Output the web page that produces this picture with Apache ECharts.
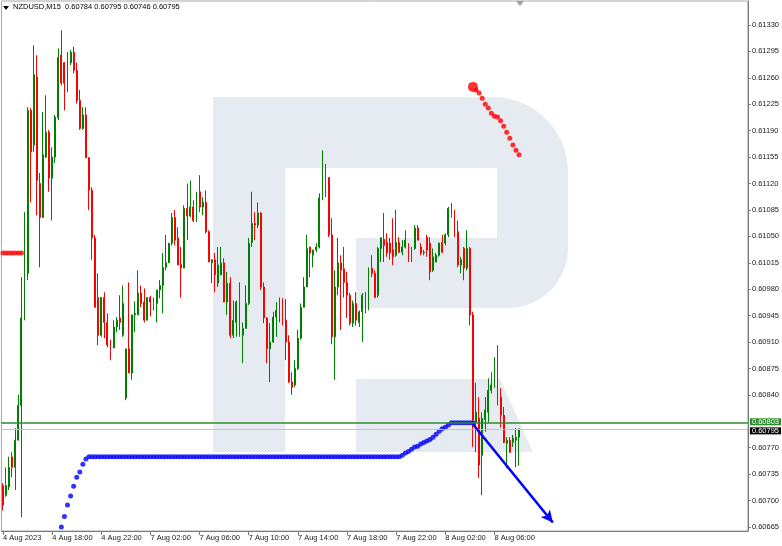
<!DOCTYPE html>
<html><head><meta charset="utf-8">
<script src="https://cdn.jsdelivr.net/npm/echarts@6/dist/echarts.min.js"></script>
<style>html,body{margin:0;padding:0;background:#fff}#c{width:782px;height:546px}</style>
</head><body><div id="c"></div>
<script>
const symbolName = 'NZDUSD,M15';
const xTickLabels = ['4 Aug 2023','4 Aug 18:00','4 Aug 22:00','7 Aug 02:00','7 Aug 06:00','7 Aug 10:00','7 Aug 14:00','7 Aug 18:00','7 Aug 22:00','8 Aug 02:00','8 Aug 06:00'];
const barsPerTick = 16;
const slotCount = 243;
const yTickValues = [0.61330,0.61295,0.61260,0.61225,0.61190,0.61155,0.61120,0.61085,0.61050,0.61015,0.60980,0.60945,0.60910,0.60875,0.60840,0.60770,0.60735,0.60700,0.60665];
const yMin = 0.606597, yMax = 0.613618;

const opens = [
0.60720,0.60707,0.60718,0.60758,0.60744,0.60780,0.60826,0.60939,0.61001,0.61217,
0.61171,0.61261,0.61120,0.61075,0.61155,0.61188,0.61127,0.61155,0.61207,0.61290,
0.61280,0.61250,0.61280,0.61294,0.61270,0.61230,0.61193,0.61211,0.61154,0.61111,
0.61048,0.60969,0.60919,0.60969,0.60936,0.60906,0.60902,0.60930,0.60942,0.60919,
0.60836,0.60901,0.60869,0.60946,0.60946,0.60975,0.60963,0.60939,0.60969,0.60964,
0.60961,0.60979,0.60985,0.61009,0.61015,0.61041,0.61075,0.61048,0.61013,0.61008,
0.61087,0.61077,0.61089,0.61071,0.61109,0.61089,0.61095,0.61056,0.61015,0.61019,
0.60988,0.60999,0.61015,0.60963,0.60988,0.60919,0.60936,0.60965,0.60919,0.60928,
0.60961,0.61042,0.61067,0.61065,0.61081,0.60983,0.60942,0.60901,0.60910,0.60943,
0.60952,0.60952,0.60939,0.60910,0.60857,0.60853,0.60875,0.60915,0.60956,0.60983,
0.61036,0.61025,0.61032,0.61036,0.61101,0.61144,0.61128,0.61052,0.60917,0.60983,
0.61015,0.61007,0.60989,0.60972,0.60935,0.60961,0.60936,0.60950,0.60972,0.60955,
0.61008,0.61001,0.60972,0.61034,0.61046,0.61042,0.61041,0.61032,0.61025,0.61042,
0.61029,0.61036,0.61036,0.61019,0.61034,0.61061,0.61036,0.61028,0.61049,0.61041,
0.61005,0.61016,0.61025,0.61042,0.61041,0.61052,0.61089,0.61081,0.61056,0.61012,
0.61034,0.61008,0.61034,0.60946,0.60804,0.60809,0.60760,0.60807,0.60817,0.60846,
0.60850,0.60889,0.60837,0.60813,0.60776,0.60780,0.60777,0.60780,0.60784];
const closes = [
0.60694,0.60720,0.60744,0.60744,0.60780,0.60826,0.60942,0.61001,0.61217,0.61162,
0.61264,0.61124,0.61075,0.61158,0.61188,0.61127,0.61155,0.61208,0.61287,0.61253,
0.61253,0.61277,0.61294,0.61270,0.61230,0.61193,0.61211,0.61154,0.61111,0.61048,
0.60956,0.60919,0.60969,0.60936,0.60906,0.60899,0.60930,0.60939,0.60936,0.60961,
0.60901,0.60869,0.60946,0.60948,0.60975,0.60961,0.60939,0.60969,0.60963,0.60961,
0.60979,0.60985,0.61009,0.61015,0.61041,0.61075,0.61045,0.61012,0.61008,0.61087,
0.61077,0.61089,0.61071,0.61109,0.61089,0.61095,0.61056,0.61016,0.61019,0.60999,
0.61012,0.61015,0.60963,0.60988,0.60919,0.60939,0.60963,0.60919,0.60928,0.60961,
0.61041,0.61067,0.61065,0.61081,0.60983,0.60942,0.60901,0.60910,0.60943,0.60952,
0.60951,0.60939,0.60910,0.60857,0.60850,0.60875,0.60915,0.60956,0.60983,0.61034,
0.61028,0.61032,0.61036,0.61101,0.61142,0.61128,0.61052,0.60917,0.60983,0.61015,
0.61005,0.60989,0.60972,0.60935,0.60961,0.60939,0.60950,0.60972,0.60950,0.61008,
0.61001,0.60969,0.61034,0.61048,0.61038,0.61028,0.61028,0.61023,0.61042,0.61029,
0.61036,0.61045,0.61019,0.61034,0.61061,0.61045,0.61028,0.61029,0.61032,0.61003,
0.61023,0.61025,0.61041,0.61029,0.61052,0.61087,0.61078,0.61056,0.61012,0.61019,
0.61008,0.61034,0.60946,0.60807,0.60817,0.60747,0.60809,0.60820,0.60846,0.60853,
0.60889,0.60836,0.60813,0.60777,0.60780,0.60764,0.60783,0.60784,0.60795];
const lows = [
0.60687,0.60705,0.60714,0.60731,0.60714,0.60780,0.60678,0.60939,0.60992,0.61095,
0.61162,0.61078,0.61009,0.61075,0.61154,0.61109,0.61071,0.61147,0.61204,0.61250,
0.61217,0.61241,0.61277,0.61266,0.61226,0.61191,0.61191,0.61154,0.61085,0.61019,
0.60956,0.60906,0.60917,0.60915,0.60903,0.60886,0.60902,0.60923,0.60926,0.60917,
0.60833,0.60869,0.60860,0.60923,0.60946,0.60956,0.60936,0.60939,0.60944,0.60952,
0.60936,0.60968,0.60948,0.61005,0.61015,0.61038,0.61038,0.61012,0.60969,0.61008,
0.61045,0.61075,0.61069,0.61069,0.61082,0.61078,0.61054,0.61016,0.60988,0.60976,
0.60983,0.60999,0.60963,0.60946,0.60915,0.60915,0.60917,0.60917,0.60882,0.60928,
0.60959,0.61036,0.61045,0.61061,0.60979,0.60935,0.60882,0.60857,0.60909,0.60917,
0.60936,0.60932,0.60886,0.60856,0.60840,0.60850,0.60873,0.60913,0.60956,0.60983,
0.60996,0.61009,0.61029,0.61034,0.61098,0.61102,0.61049,0.60907,0.60860,0.60972,
0.60926,0.60969,0.60942,0.60932,0.60930,0.60932,0.60930,0.60910,0.60948,0.60952,
0.60996,0.60969,0.60969,0.61016,0.61016,0.61023,0.61019,0.61012,0.61023,0.61028,
0.61025,0.61034,0.61016,0.61016,0.61032,0.61045,0.61025,0.61025,0.61023,0.60992,
0.61003,0.61016,0.61023,0.61028,0.61038,0.61049,0.61075,0.61049,0.61009,0.61001,
0.60992,0.61005,0.60932,0.60771,0.60764,0.60730,0.60707,0.60791,0.60803,0.60842,
0.60849,0.60826,0.60797,0.60776,0.60743,0.60763,0.60771,0.60744,0.60746];
const highs = [
0.60723,0.60744,0.60758,0.60764,0.60796,0.60840,0.60996,0.61082,0.61221,0.61220,
0.61303,0.61290,0.61134,0.61215,0.61237,0.61191,0.61168,0.61211,0.61299,0.61323,
0.61281,0.61294,0.61297,0.61301,0.61280,0.61244,0.61221,0.61221,0.61155,0.61115,
0.61052,0.61001,0.60969,0.60976,0.60948,0.60913,0.60939,0.60943,0.60972,0.60985,
0.60901,0.60989,0.60946,0.60964,0.61005,0.60985,0.60981,0.60969,0.60971,0.60969,
0.60979,0.60992,0.61028,0.61052,0.61041,0.61081,0.61085,0.61062,0.61036,0.61091,
0.61120,0.61124,0.61098,0.61109,0.61131,0.61102,0.61111,0.61058,0.61019,0.61028,
0.61036,0.61036,0.61021,0.61003,0.60996,0.60965,0.60965,0.60989,0.60936,0.60985,
0.61048,0.61109,0.61082,0.61095,0.61082,0.60989,0.60943,0.60935,0.60950,0.60963,
0.60969,0.60968,0.60967,0.60919,0.60870,0.60886,0.60926,0.60961,0.60996,0.61052,
0.61036,0.61032,0.61041,0.61107,0.61164,0.61146,0.61128,0.61074,0.61005,0.61048,
0.61025,0.61036,0.61003,0.60975,0.60965,0.60976,0.60952,0.60975,0.60976,0.61009,
0.61025,0.61005,0.61036,0.61049,0.61081,0.61054,0.61048,0.61074,0.61085,0.61049,
0.61045,0.61058,0.61041,0.61036,0.61065,0.61065,0.61041,0.61032,0.61052,0.61049,
0.61034,0.61028,0.61042,0.61052,0.61054,0.61089,0.61094,0.61085,0.61071,0.61023,
0.61036,0.61058,0.61036,0.60950,0.60856,0.60837,0.60817,0.60837,0.60862,0.60870,
0.60890,0.60906,0.60849,0.60824,0.60784,0.60784,0.60787,0.60796,0.60795];

// indicator dots (blue, below price), start bar index and values
const blueDotStart = 19;
const blueDotValues = [
0.60665,0.60679,0.60694,0.60706,0.60719,0.60731,0.60738,0.60748,0.60755,0.60758,
0.60758,0.60758,0.60758,0.60758,0.60758,0.60758,0.60758,0.60758,0.60758,0.60758,
0.60758,0.60758,0.60758,0.60758,0.60758,0.60758,0.60758,0.60758,0.60758,0.60758,
0.60758,0.60758,0.60758,0.60758,0.60758,0.60758,0.60758,0.60758,0.60758,0.60758,
0.60758,0.60758,0.60758,0.60758,0.60758,0.60758,0.60758,0.60758,0.60758,0.60758,
0.60758,0.60758,0.60758,0.60758,0.60758,0.60758,0.60758,0.60758,0.60758,0.60758,
0.60758,0.60758,0.60758,0.60758,0.60758,0.60758,0.60758,0.60758,0.60758,0.60758,
0.60758,0.60758,0.60758,0.60758,0.60758,0.60758,0.60758,0.60758,0.60758,0.60758,
0.60758,0.60758,0.60758,0.60758,0.60758,0.60758,0.60758,0.60758,0.60758,0.60758,
0.60758,0.60758,0.60758,0.60758,0.60758,0.60758,0.60758,0.60758,0.60758,0.60758,
0.60758,0.60758,0.60758,0.60758,0.60758,0.60758,0.60758,0.60758,0.60758,0.60758,
0.60758,
0.60760,0.60763,0.60765,0.60768,0.60771,0.60772,0.60775,0.60777,0.60779,0.60781,
0.60784,0.60788,0.60792,0.60795,0.60797,0.60800,
0.60803,0.60803,0.60803,0.60803,0.60803,0.60803,0.60803,0.60803];
// indicator dots (red, above price)
const redDotStart = 154;
const redDotValues = [0.61244,0.61240,0.61233,0.61225,0.61220,0.61213,0.61209,0.61208,0.61203,0.61196,0.61188,0.61180,0.61171,0.61164,0.61158];
const redBigDot = [153, 0.61248];
const redLeftStart = 0;
const redLeftValues = [0.61028,0.61028,0.61028,0.61028,0.61028,0.61028,0.61028];
// horizontal levels and forecast arrow
const levelGreen = 0.60803;
const levelBid = 0.60795;
const forecastArrow = [[153, 0.60801], [179, 0.60671]];

const ohlc = opens.map((o, i) => [o, closes[i], lows[i], highs[i]]);
const categories = [];
for (let i = 0; i < slotCount; i++) categories.push(String(i));
const toPairs = (start, vals) => vals.map((v, k) => [start + k, v]);
const isTick = (idx) => idx % barsPerTick === 0 && idx / barsPerTick < xTickLabels.length;
const last = ohlc.length - 1;
const headerText = symbolName + '  ' + [opens[last], highs[last], lows[last], closes[last]].map(v => v.toFixed(5)).join(' ');

const FONT = 'Liberation Sans, Arial, sans-serif';
const AX = '#7a7a7a';
const WM = '#e6ebf2';
const lvlLabel = {show: true, position: 'end', distance: 2, fontSize: 7.5, fontFamily: FONT, color: '#fff', lineHeight: 7, padding: [0, 2, 0, 2]};

const chart = echarts.init(document.getElementById('c'), null, {renderer: 'canvas'});
chart.setOption({
  animation: false,
  backgroundColor: '#ffffff',
  grid: {left: 1, right: 34, top: 1, bottom: 15, show: true, borderColor: '#a8a8a8', borderWidth: 1, backgroundColor: 'transparent'},
  graphic: [
    {type: 'rect', silent: true, z: 0, shape: {x: 213, y: 97, width: 355, height: 211, r: [0, 75, 60, 0]}, style: {fill: WM}},
    {type: 'rect', silent: true, z: 0, shape: {x: 285, y: 168, width: 212, height: 70}, style: {fill: '#ffffff'}},
    {type: 'rect', silent: true, z: 0, shape: {x: 285, y: 237, width: 71, height: 72}, style: {fill: '#ffffff'}},
    {type: 'rect', silent: true, z: 0, shape: {x: 213, y: 97, width: 72, height: 355}, style: {fill: WM}},
    {type: 'polygon', silent: true, z: 0, shape: {points: [[356, 379], [500, 379], [533, 452], [356, 452]]}, style: {fill: WM}},
    {type: 'polygon', silent: true, z: 10, shape: {points: [[3, 6], [9, 6], [6, 10]]}, style: {fill: '#000'}},
    {type: 'text', silent: true, z: 10, left: 13, top: 3, style: {text: headerText, font: '7.5px ' + FONT, fill: '#000'}},
    {type: 'polygon', silent: true, z: 10, shape: {points: [[516, 1], [524, 1], [520, 6]]}, style: {fill: '#a0a0a0'}}
  ],
  xAxis: {
    type: 'category', data: categories, boundaryGap: true,
    axisLine: {show: true, lineStyle: {color: AX}},
    axisTick: {show: true, alignWithLabel: true, interval: isTick, length: 4, lineStyle: {color: AX}},
    axisLabel: {interval: isTick, formatter: (v) => xTickLabels[parseInt(v, 10) / barsPerTick] || '', align: 'left', fontSize: 7.5, fontFamily: FONT, color: '#202020', margin: 3},
    splitLine: {show: false}
  },
  yAxis: {
    type: 'value', position: 'right', min: yMin, max: yMax, scale: true,
    axisLine: {show: true, lineStyle: {color: AX}},
    axisTick: {show: true, length: 3, customValues: yTickValues, lineStyle: {color: AX}},
    axisLabel: {customValues: yTickValues, formatter: (v) => v.toFixed(5), fontSize: 7.5, fontFamily: FONT, color: '#202020', margin: 4},
    splitLine: {show: false}
  },
  series: [
    {
      type: 'candlestick', data: ohlc, barWidth: 1.4, z: 3, silent: true,
      itemStyle: {color: '#008000', color0: '#ff0000', borderColor: '#008000', borderColor0: '#ff0000', borderWidth: 1}
    },
    {
      type: 'scatter', data: toPairs(blueDotStart, blueDotValues), symbolSize: 5, itemStyle: {color: '#0000ff'}, z: 4, silent: true,
      markLine: {
        silent: true, precision: 5, symbol: ['none', 'none'], animation: false, z: 6,
        data: [
          {yAxis: levelBid, lineStyle: {color: '#c4c4c4', width: 1, type: 'solid'},
           label: Object.assign({}, lvlLabel, {offset: [0, 2], formatter: () => levelBid.toFixed(5), backgroundColor: '#000'})},
          {yAxis: levelGreen, lineStyle: {color: '#2e8b2e', width: 1.5, type: 'solid'},
           label: Object.assign({}, lvlLabel, {offset: [0, -1], formatter: () => levelGreen.toFixed(5), backgroundColor: '#2e8b2e'})},
          [{coord: forecastArrow[0], symbol: 'none', lineStyle: {color: '#0000ff', width: 2.5, type: 'solid'}, label: {show: false}},
           {coord: forecastArrow[1], symbol: 'arrow', symbolSize: [9, 12]}]
        ]
      }
    },
    {type: 'scatter', data: toPairs(redDotStart, redDotValues), symbolSize: 5, itemStyle: {color: '#ff0000'}, z: 4, silent: true},
    {type: 'scatter', data: toPairs(redLeftStart, redLeftValues), symbolSize: 5, itemStyle: {color: '#ff0000'}, z: 4, silent: true},
    {type: 'scatter', data: [redBigDot], symbolSize: 10, itemStyle: {color: '#ff0000'}, z: 4, silent: true}
  ]
});
</script>
</body></html>
